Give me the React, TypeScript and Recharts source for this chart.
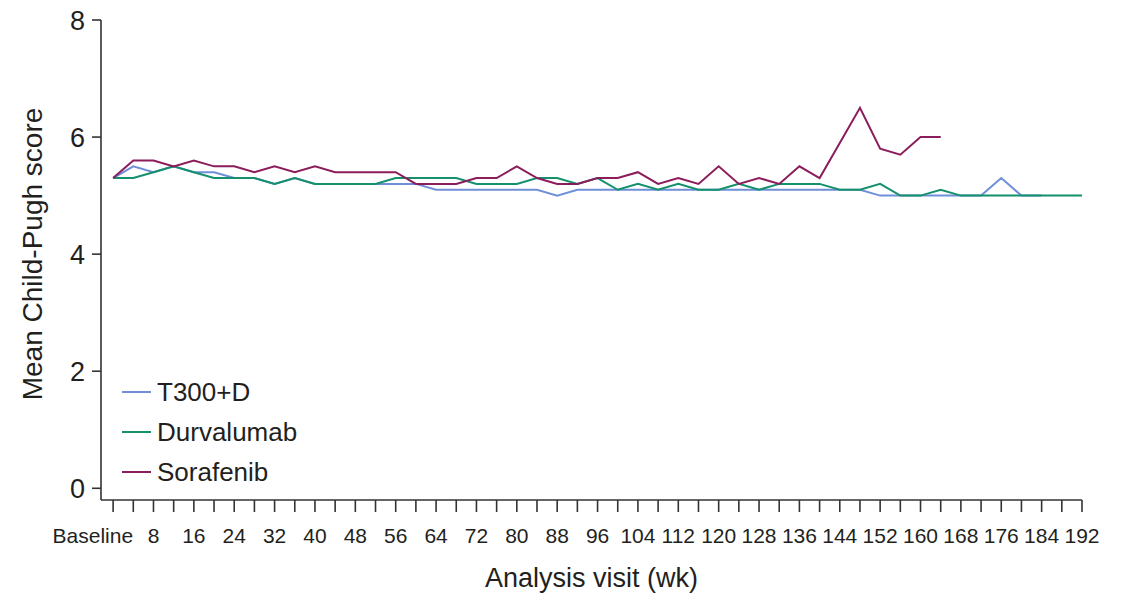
import { LineChart, Line, XAxis, YAxis, Legend, Label } from 'recharts'

// Analysis visit (weeks), one point every 4 weeks
const weeks = [
  0, 4, 8, 12, 16, 20, 24, 28, 32, 36, 40, 44, 48, 52, 56, 60, 64, 68, 72, 76, 80, 84, 88, 92, 96,
  100, 104, 108, 112, 116, 120, 124, 128, 132, 136, 140, 144, 148, 152, 156, 160, 164, 168, 172,
  176, 180, 184, 188, 192,
]

const t300d = [
  5.3, 5.5, 5.4, 5.5, 5.4, 5.4, 5.3, 5.3, 5.2, 5.3, 5.2, 5.2, 5.2, 5.2, 5.2, 5.2, 5.1, 5.1, 5.1,
  5.1, 5.1, 5.1, 5.0, 5.1, 5.1, 5.1, 5.1, 5.1, 5.1, 5.1, 5.1, 5.1, 5.1, 5.1, 5.1, 5.1, 5.1, 5.1,
  5.0, 5.0, 5.0, 5.0, 5.0, 5.0, 5.3, 5.0, 5.0, null, null,
]

const durvalumab = [
  5.3, 5.3, 5.4, 5.5, 5.4, 5.3, 5.3, 5.3, 5.2, 5.3, 5.2, 5.2, 5.2, 5.2, 5.3, 5.3, 5.3, 5.3, 5.2,
  5.2, 5.2, 5.3, 5.3, 5.2, 5.3, 5.1, 5.2, 5.1, 5.2, 5.1, 5.1, 5.2, 5.1, 5.2, 5.2, 5.2, 5.1, 5.1,
  5.2, 5.0, 5.0, 5.1, 5.0, 5.0, 5.0, 5.0, 5.0, 5.0, 5.0,
]

const sorafenib = [
  5.3, 5.6, 5.6, 5.5, 5.6, 5.5, 5.5, 5.4, 5.5, 5.4, 5.5, 5.4, 5.4, 5.4, 5.4, 5.2, 5.2, 5.2, 5.3,
  5.3, 5.5, 5.3, 5.2, 5.2, 5.3, 5.3, 5.4, 5.2, 5.3, 5.2, 5.5, 5.2, 5.3, 5.2, 5.5, 5.3, 5.9, 6.5,
  5.8, 5.7, 6.0, 6.0, null, null, null, null, null, null, null,
]

const yTicks = [0, 2, 4, 6, 8]

const series = [
  { name: 'T300+D', values: t300d, color: '#6f8fd8' },
  { name: 'Durvalumab', values: durvalumab, color: '#15906c' },
  { name: 'Sorafenib', values: sorafenib, color: '#8c1d5c' },
]

const data = weeks.map((week, i) => {
  const row: Record<string, number | null> = { week }
  series.forEach((s) => {
    row[s.name] = s.values[i]
  })
  return row
})

const FONT = '"Liberation Sans", Arial, sans-serif'
const TEXT = '#231f20'
const AXIS = '#333333'

function WeekTick({ x, y, payload }: any) {
  const w = payload.value
  if (w !== 0 && w % 8 !== 0) return <g />
  const isBase = w === 0
  return (
    <text
      x={isBase ? x + 20 : x}
      y={y}
      dy="0.71em"
      textAnchor={isBase ? 'end' : 'middle'}
      fontSize={21}
      fill={TEXT}
    >
      {isBase ? 'Baseline' : w}
    </text>
  )
}

// keep the legend in series order (Recharts sorts its payload by name)
function LegendBox() {
  return (
    <div style={{ display: 'flex', flexDirection: 'column' }}>
      {series.map((s) => (
        <div key={s.name} style={{ display: 'flex', alignItems: 'center', height: 40 }}>
          <span style={{ width: 29, height: 2, background: s.color, marginRight: 6 }} />
          <span style={{ fontSize: 26, color: TEXT, lineHeight: 1 }}>{s.name}</span>
        </div>
      ))}
    </div>
  )
}

export default function App() {
  return (
    <div style={{ position: 'absolute', left: 0, top: 0, fontFamily: FONT, background: '#fff' }}>
      <LineChart width={1130} height={594} data={data} margin={{ top: 20, right: 48, bottom: 0, left: 0 }}>
        <XAxis
          dataKey="week"
          type="number"
          domain={[-2.4, 192]}
          allowDataOverflow
          ticks={weeks}
          interval={0}
          height={94}
          tickSize={12}
          tickMargin={16}
          tick={<WeekTick />}
          axisLine={{ stroke: AXIS, strokeWidth: 1.6 }}
          tickLine={{ stroke: AXIS, strokeWidth: 1.6 }}
        >
          <Label
            content={({ viewBox }: any) => (
              <text
                x={viewBox.x + viewBox.width / 2}
                y={viewBox.y + 87}
                textAnchor="middle"
                fontSize={27}
                fill={TEXT}
              >
                Analysis visit (wk)
              </text>
            )}
          />
        </XAxis>
        <YAxis
          type="number"
          domain={[-0.2, 8]}
          allowDataOverflow
          ticks={yTicks}
          interval={0}
          width={101}
          tickSize={9}
          tickMargin={7}
          tick={{ fontSize: 27, fill: TEXT }}
          axisLine={{ stroke: AXIS, strokeWidth: 1.6 }}
          tickLine={{ stroke: AXIS, strokeWidth: 1.6 }}
        >
          <Label
            content={({ viewBox }: any) => {
              const cx = viewBox.x + 42
              const cy = viewBox.y + 234
              return (
                <text
                  x={cx}
                  y={cy}
                  transform={`rotate(-90 ${cx} ${cy})`}
                  textAnchor="middle"
                  fontSize={28}
                  fill={TEXT}
                >
                  Mean Child-Pugh score
                </text>
              )
            }}
          />
        </YAxis>
        <Legend
          layout="vertical"
          align="center"
          verticalAlign="middle"
          content={<LegendBox />}
          wrapperStyle={{ left: 122, top: 372, width: 'auto', height: 'auto' }}
        />
        {series.map((s) => (
          <Line
            key={s.name}
            type="linear"
            dataKey={s.name}
            name={s.name}
            stroke={s.color}
            strokeWidth={2}
            dot={false}
            activeDot={false}
            isAnimationActive={false}
          />
        ))}
      </LineChart>
    </div>
  )
}
